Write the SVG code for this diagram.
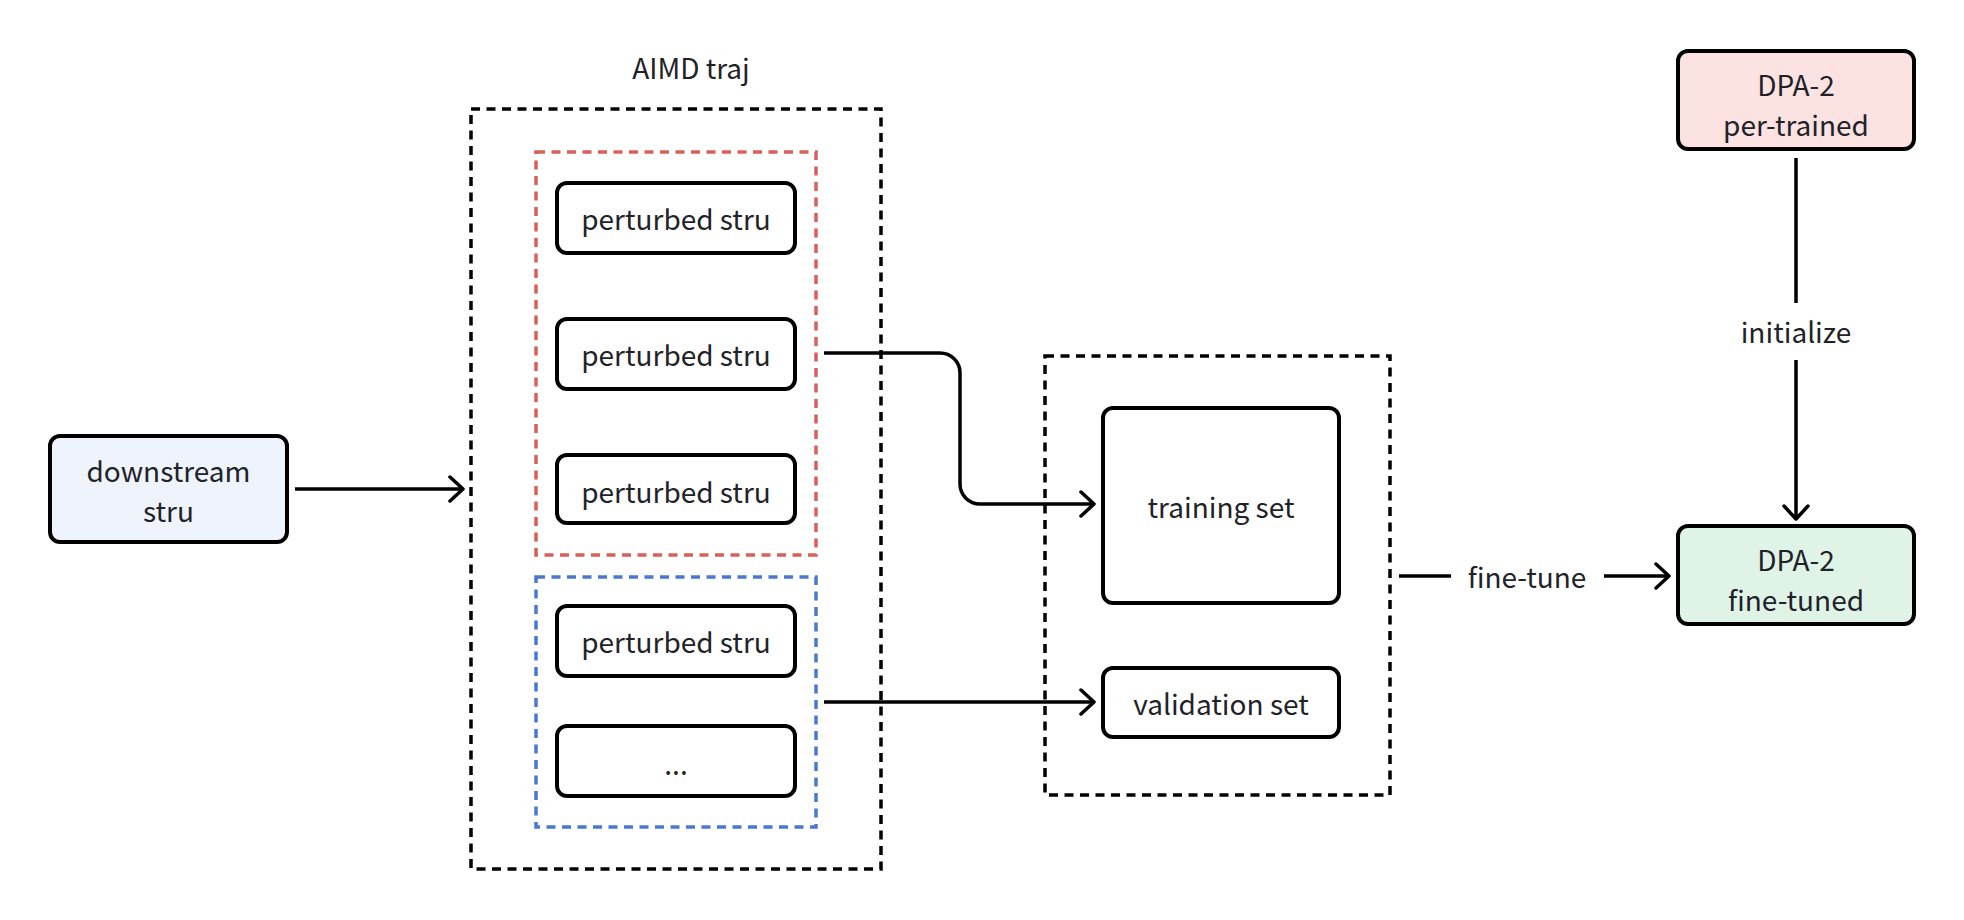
<svg xmlns="http://www.w3.org/2000/svg" width="1964" height="920" viewBox="0 0 1964 920">
  <style>
    text { font-family: "Noto Sans CJK SC", "Noto Sans", sans-serif; font-size: 28px; fill: #1f2329; text-anchor: middle; }
    .box { stroke: #000; stroke-width: 4; }
    .plain { fill: #fff; }
    .group { fill: none; stroke-width: 3.5; stroke-dasharray: 9 6.5; }
    .edge { fill: none; stroke: #000; stroke-width: 3.5; }
  </style>
  <defs>
    <marker id="arrow" viewBox="0 0 20 30" refX="18" refY="15" markerWidth="20" markerHeight="30" orient="auto" markerUnits="userSpaceOnUse">
      <path d="M5 3 L18 15 L5 27" fill="none" stroke="#000" stroke-width="3.5" stroke-linecap="round" stroke-linejoin="round"/>
    </marker>
  </defs>
  <rect width="1964" height="920" fill="#fff"/>

  <!-- grouping frames -->
  <g id="aimd-traj">
    <rect class="group" x="471" y="109" width="410" height="760" stroke="#000"/>
    <text x="691" y="79">AIMD traj</text>
  </g>
  <g id="train-split">
    <rect class="group" x="536" y="152" width="280" height="403" stroke="#d95f5b"/>
  </g>
  <g id="valid-split">
    <rect class="group" x="536" y="577" width="280" height="250" stroke="#4a78d0"/>
  </g>
  <g id="dataset">
    <rect class="group" x="1045" y="356" width="345" height="439" stroke="#000"/>
  </g>

  <!-- connectors -->
  <g id="connectors">
    <path class="edge" d="M295 489 H463" marker-end="url(#arrow)"/>
    <path class="edge" d="M824 353 H940 A20 20 0 0 1 960 373 V484 A20 20 0 0 0 980 504 H1094" marker-end="url(#arrow)"/>
    <path class="edge" d="M824 702 H1094" marker-end="url(#arrow)"/>
    <path class="edge" d="M1399 576 H1451"/>
    <text x="1527" y="588">fine-tune</text>
    <path class="edge" d="M1604 576 H1669" marker-end="url(#arrow)"/>
    <path class="edge" d="M1796 158 V303"/>
    <text x="1796" y="343">initialize</text>
    <path class="edge" d="M1796 360 V519" marker-end="url(#arrow)"/>
  </g>

  <!-- nodes -->
  <g id="downstream-stru">
    <rect class="box" x="50" y="436" width="237" height="106" rx="10" fill="#eef3fc"/>
    <text x="168.5" y="482">downstream</text>
    <text x="168.5" y="522">stru</text>
  </g>
  <g id="perturbed-1">
    <rect class="box plain" x="557" y="183" width="238" height="70" rx="10"/>
    <text x="676" y="230">perturbed stru</text>
  </g>
  <g id="perturbed-2">
    <rect class="box plain" x="557" y="319" width="238" height="70" rx="10"/>
    <text x="676" y="366">perturbed stru</text>
  </g>
  <g id="perturbed-3">
    <rect class="box plain" x="557" y="455" width="238" height="68" rx="10"/>
    <text x="676" y="503">perturbed stru</text>
  </g>
  <g id="perturbed-4">
    <rect class="box plain" x="557" y="606" width="238" height="70" rx="10"/>
    <text x="676" y="653">perturbed stru</text>
  </g>
  <g id="perturbed-more">
    <rect class="box plain" x="557" y="726" width="238" height="70" rx="10"/>
    <text x="676" y="775">...</text>
  </g>
  <g id="training-set">
    <rect class="box plain" x="1103" y="408" width="236" height="195" rx="10"/>
    <text x="1221" y="518">training set</text>
  </g>
  <g id="validation-set">
    <rect class="box plain" x="1103" y="668" width="236" height="69" rx="10"/>
    <text x="1221" y="715">validation set</text>
  </g>
  <g id="dpa2-pretrained">
    <rect class="box" x="1678" y="51" width="236" height="98" rx="10" fill="#fde2e2"/>
    <text x="1796" y="96">DPA-2</text>
    <text x="1796" y="136">per-trained</text>
  </g>
  <g id="dpa2-finetuned">
    <rect class="box" x="1678" y="526" width="236" height="98" rx="10" fill="#dff4e6"/>
    <text x="1796" y="571">DPA-2</text>
    <text x="1796" y="611">fine-tuned</text>
  </g>
</svg>
